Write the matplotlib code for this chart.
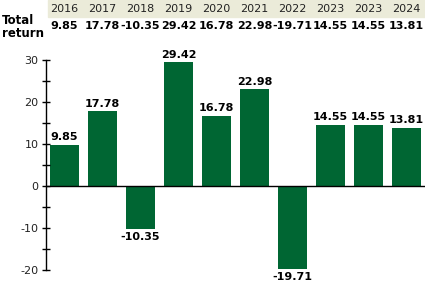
import matplotlib
matplotlib.use("Agg")
import matplotlib.pyplot as plt
from matplotlib.transforms import blended_transform_factory
from matplotlib.patches import Rectangle
from matplotlib.ticker import MultipleLocator

plt.rcParams["axes.unicode_minus"] = False

years = ["2016", "2017", "2018", "2019", "2020", "2021", "2022", "2023", "2023", "2024"]
returns = [9.85, 17.78, -10.35, 29.42, 16.78, 22.98, -19.71, 14.55, 14.55, 13.81]
labels = ["9.85", "17.78", "-10.35", "29.42", "16.78", "22.98", "-19.71", "14.55", "14.55", "13.81"]

W, H = 425, 288
fig = plt.figure(figsize=(W / 100, H / 100), dpi=100)
ax = fig.add_axes([45.5 / W, (H - 270) / H, (425.5 - 45.5) / W, 210 / H])

green = "#006633"
x = list(range(len(years)))
ax.bar(x, returns, width=0.76, color=green)
ax.set_xlim(-0.5, len(years) - 0.5)
ax.set_ylim(-20, 30)
ax.axhline(0, color="black", lw=1)

for s in ["top", "right", "bottom"]:
    ax.spines[s].set_visible(False)
ax.spines["left"].set_linewidth(1)
ax.set_xticks([])
ax.yaxis.set_major_locator(MultipleLocator(10))
ax.yaxis.set_minor_locator(MultipleLocator(5))
ax.tick_params(axis="y", which="major", direction="inout", length=6, width=1,
               labelsize=8, labelcolor="#222222", pad=2)
ax.tick_params(axis="y", which="minor", direction="inout", length=6, width=1)

for xi, v, lab in zip(x, returns, labels):
    if v >= 0:
        ax.annotate(lab, (xi, v), xytext=(0, 2), textcoords="offset points",
                    ha="center", va="bottom", fontsize=8, fontweight="bold")
    else:
        ax.annotate(lab, (xi, v), xytext=(0, -2), textcoords="offset points",
                    ha="center", va="top", fontsize=8, fontweight="bold")

# header table
tr = blended_transform_factory(ax.transData, fig.transFigure)
fig.patches.append(Rectangle((48 / W, (H - 17) / H), 1 - 48 / W, 17 / H,
                             transform=fig.transFigure, color="#ebebd9", zorder=0))
for xi, y, lab in zip(x, years, labels):
    fig.text(xi, (H - 8.5) / H, y, transform=tr, ha="center", va="center",
             fontsize=8, color="#222222")
    fig.text(xi, (H - 26) / H, lab, transform=tr, ha="center", va="center",
             fontsize=8, fontweight="bold")
fig.text(2 / W, (H - 27) / H, "Total\nreturn", ha="left", va="center",
         fontsize=8.5, fontweight="bold", linespacing=1.0)

fig.savefig("out.png", dpi=100)
